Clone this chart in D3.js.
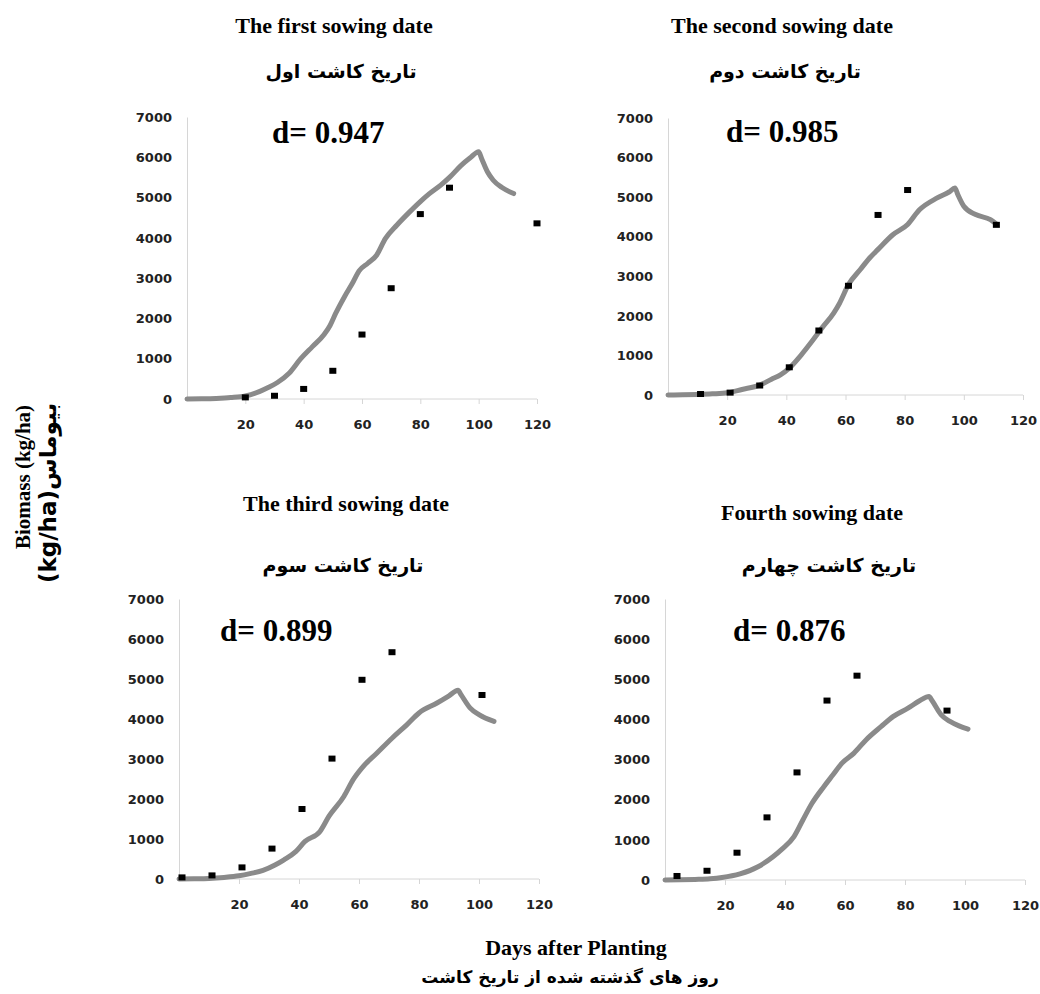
<!DOCTYPE html>
<meta charset="utf-8">
<body style="margin:0;background:#fff">
<script src="https://d3js.org/d3.v7.min.js"></script>
<script>

// Chart text
const titlesEn = ["The first sowing date", "The second sowing date", "The third sowing date", "Fourth sowing date"];
const titlesFa = ["تاریخ کاشت اول", "تاریخ کاشت دوم", "تاریخ کاشت سوم", "تاریخ کاشت چهارم"];
const dLabels = ["d= 0.947", "d= 0.985", "d= 0.899", "d= 0.876"];
const xTicks = [20, 40, 60, 80, 100, 120];
const yTicks = [0, 1000, 2000, 3000, 4000, 5000, 6000, 7000];

// Simulated biomass (gray curve)
const simDays1 = [0, 5, 10, 15, 20, 25, 28, 31, 35, 39, 43, 47, 49, 51, 54, 57, 59, 62, 65, 68, 72, 76, 80, 83, 87, 90, 94, 97, 100, 101, 103, 105, 108, 112];
const simBio1  = [0, 5, 15, 35, 75, 190, 290, 410, 640, 1000, 1300, 1600, 1820, 2130, 2540, 2910, 3180, 3370, 3570, 3980, 4320, 4620, 4900, 5090, 5310, 5500, 5800, 5980, 6140, 5970, 5640, 5430, 5250, 5100];
const simDays2 = [0, 5, 10, 15, 20, 25, 31, 35, 38, 41, 45, 49, 52, 56, 58, 61, 65, 68, 71, 76, 81, 85, 91, 95, 97, 98, 100, 104, 109, 111];
const simBio2  = [0, 5, 15, 30, 55, 140, 250, 400, 510, 680, 1010, 1390, 1690, 2070, 2320, 2790, 3170, 3450, 3680, 4050, 4310, 4680, 4980, 5130, 5230, 5060, 4770, 4560, 4430, 4320];
const simDays3 = [0, 5, 10, 15, 20, 24, 28, 32, 35, 39, 42, 47, 50, 55, 58, 61, 66, 71, 76, 80, 86, 90, 93, 94, 97, 100, 105];
const simBio3  = [0, 5, 15, 40, 80, 140, 215, 350, 480, 690, 940, 1190, 1570, 2070, 2480, 2780, 3150, 3520, 3860, 4150, 4400, 4580, 4720, 4610, 4280, 4110, 3940];
const simDays4 = [0, 5, 10, 15, 19, 25, 31, 36, 39, 43, 46, 49, 53, 56, 59, 63, 67, 72, 76, 81, 85, 88, 89, 92, 95, 98, 101];
const simBio4  = [0, 5, 15, 30, 60, 150, 330, 580, 770, 1080, 1500, 1910, 2330, 2620, 2910, 3160, 3490, 3820, 4070, 4280, 4470, 4570, 4470, 4120, 3950, 3840, 3760];

// Observed biomass (black squares)
const obsDays1 = [20, 30, 40, 50, 60, 70, 80, 90, 120];
const obsBio1  = [40, 80, 250, 700, 1600, 2750, 4590, 5245, 4360];
const obsDays2 = [11, 21, 31, 41, 51, 61, 71, 81, 111];
const obsBio2  = [25, 60, 240, 700, 1630, 2760, 4550, 5180, 4300];
const obsDays3 = [1, 11, 21, 31, 41, 51, 61, 71, 101];
const obsBio3  = [40, 90, 290, 760, 1750, 3010, 4980, 5670, 4600];
const obsDays4 = [4, 14, 24, 34, 44, 54, 64, 94];
const obsBio4  = [100, 230, 680, 1560, 2680, 4470, 5090, 4220];

const simDays = [simDays1, simDays2, simDays3, simDays4];
const simBio = [simBio1, simBio2, simBio3, simBio4];
const obsDays = [obsDays1, obsDays2, obsDays3, obsDays4];
const obsBio = [obsBio1, obsBio2, obsBio3, obsBio4];

// Where each panel sits on the page
const layout = [
  {left: 187, right: 537, bottom: 399, top: 117, tx: 334, ty: 33, fx: 341, fy: 78, dx: 272, dy: 143},
  {left: 668, right: 1023, bottom: 395, top: 118, tx: 782, ty: 33, fx: 785, fy: 78, dx: 726, dy: 142},
  {left: 179, right: 539, bottom: 879, top: 599, tx: 346, ty: 511, fx: 343, fy: 572, dx: 220, dy: 641},
  {left: 665, right: 1025, bottom: 880, top: 599, tx: 812, ty: 520, fx: 829, fy: 572, dx: 733, dy: 641}
];

const serif = "'Liberation Serif', 'Times New Roman', serif";
const sans = "'DejaVu Sans', Verdana, sans-serif";

const svg = d3.select("body").append("svg")
    .attr("width", 1040)
    .attr("height", 994);

layout.forEach(function(p, i) {
  const x = d3.scaleLinear().domain([0, 120]).range([p.left, p.right]);
  const y = d3.scaleLinear().domain([0, 7000]).range([p.bottom, p.top]);
  const g = svg.append("g");

  // x axis
  const xa = g.append("g")
      .attr("transform", "translate(0," + p.bottom + ")")
      .call(d3.axisBottom(x).tickValues(xTicks).tickSizeOuter(0).tickSizeInner(5).tickPadding(16));
  xa.select(".domain").attr("stroke", "#d6d6d6").attr("d", "M" + x(0) + ",0H" + x(120));
  xa.selectAll(".tick line").attr("stroke", "#d6d6d6");
  xa.selectAll("text").attr("font-family", sans).attr("font-weight", "bold")
      .attr("font-size", 13).attr("fill", "#222");

  // y axis
  const ya = g.append("g")
      .attr("transform", "translate(" + p.left + ",0)")
      .call(d3.axisLeft(y).tickValues(yTicks).tickSize(0).tickPadding(15).tickFormat(d3.format("d")));
  ya.select(".domain").attr("stroke", "#d6d6d6");
  ya.selectAll("text").attr("font-family", sans).attr("font-weight", "bold")
      .attr("font-size", 13).attr("fill", "#222");

  // simulated curve
  const sim = simDays[i].map(function(d, k) { return [d, simBio[i][k]]; });
  g.append("path")
      .datum(sim)
      .attr("fill", "none")
      .attr("stroke", "#8a8a8a")
      .attr("stroke-width", 5)
      .attr("stroke-linejoin", "round")
      .attr("stroke-linecap", "round")
      .attr("d", d3.line()
          .curve(d3.curveMonotoneX)
          .x(function(d) { return x(d[0]); })
          .y(function(d) { return y(d[1]); }));

  // observed points
  const obs = obsDays[i].map(function(d, k) { return [d, obsBio[i][k]]; });
  g.selectAll(".obs").data(obs).enter().append("rect")
      .attr("class", "obs")
      .attr("x", function(d) { return x(d[0]) - 3.5; })
      .attr("y", function(d) { return y(d[1]) - 3; })
      .attr("width", 7)
      .attr("height", 6)
      .attr("fill", "#000");

  // titles
  svg.append("text")
      .attr("x", p.tx).attr("y", p.ty)
      .attr("text-anchor", "middle")
      .style("font-family", serif).style("font-weight", "bold").style("font-size", "22px")
      .text(titlesEn[i]);
  svg.append("text")
      .attr("x", p.fx).attr("y", p.fy)
      .attr("text-anchor", "middle")
      .style("font-family", sans).style("font-weight", "bold").style("font-size", "19px")
      .text(titlesFa[i]);

  // agreement index
  svg.append("text")
      .attr("x", p.dx).attr("y", p.dy)
      .style("font-family", serif).style("font-weight", "bold").style("font-size", "31px")
      .text(dLabels[i]);
});

// y axis titles
svg.append("text")
    .attr("transform", "translate(30,477) rotate(-90)")
    .attr("text-anchor", "middle")
    .style("font-family", serif).style("font-weight", "bold").style("font-size", "21px")
    .text("Biomass (kg/ha)");
svg.append("text")
    .attr("transform", "translate(56,493) rotate(-90)")
    .attr("text-anchor", "middle")
    .attr("direction", "ltr")
    .style("font-family", sans).style("font-weight", "bold").style("font-size", "23px")
    .text("(kg/ha)بیوماس");

// x axis titles
svg.append("text")
    .attr("x", 576).attr("y", 955)
    .attr("text-anchor", "middle")
    .style("font-family", serif).style("font-weight", "bold").style("font-size", "22px")
    .text("Days after Planting");
svg.append("text")
    .attr("x", 570).attr("y", 983)
    .attr("text-anchor", "middle")
    .style("font-family", sans).style("font-weight", "bold").style("font-size", "17px")
    .text("روز های گذشته شده از تاریخ کاشت");

</script>
</body>
